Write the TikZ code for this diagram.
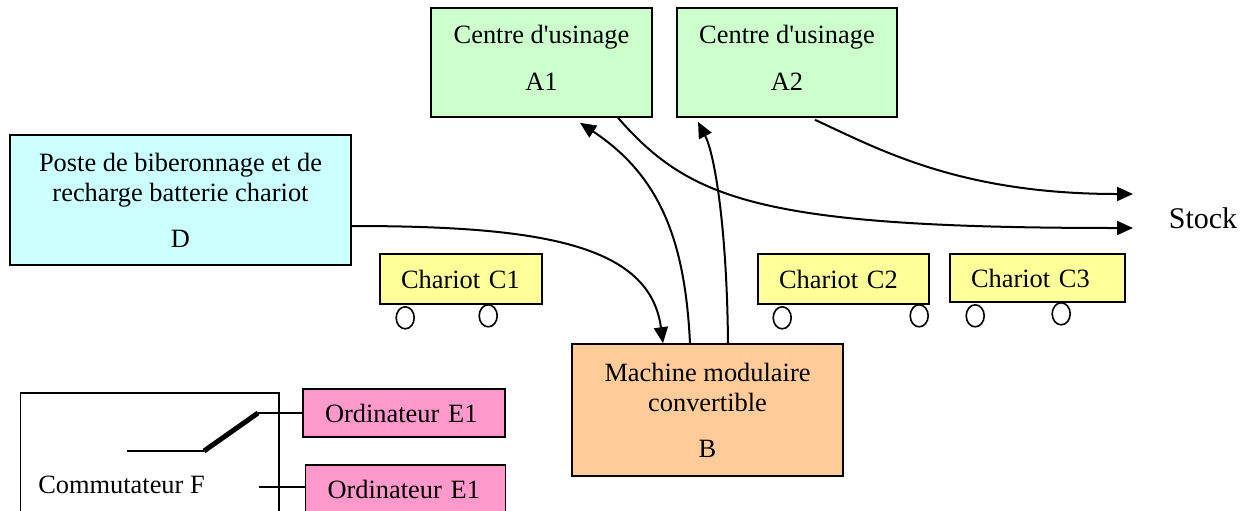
\documentclass[tikz,border=0pt]{standalone}
\usepackage{fontspec}
\setmainfont{Liberation Serif}
\usetikzlibrary{calc,arrows.meta}

\definecolor{usinage}{HTML}{CCFFCC}
\definecolor{poste}{HTML}{CCFFFF}
\definecolor{chariot}{HTML}{FFFF99}
\definecolor{machine}{HTML}{FFCC99}
\definecolor{ordi}{HTML}{FF99CC}

\begin{document}
\begin{tikzpicture}[x=0.5pt,y=-0.5pt,
  every node/.style={font=\fontsize{13.2}{15}\selectfont},
  box/.style={draw,line width=0.8pt,align=center,inner sep=0pt},
  leftbox/.style={draw,line width=0.8pt,align=left,inner ysep=0pt,inner xsep=10.5pt},
  flow/.style={line width=1pt,-{Triangle[length=8pt,width=7pt]}},
  wheel/.style={draw,line width=0.8pt,fill=white}]

\useasboundingbox (0,0) rectangle (1249,510);
\clip (0,0) rectangle (1249,510);

% centres d'usinage
\node[box,fill=usinage,minimum width=110.5pt,minimum height=54.5pt,text depth=5pt] (a1) at (541.5,62.5) {Centre d\textquotesingle usinage\\[8.5pt]A1};
\node[box,fill=usinage,minimum width=110pt,minimum height=54.5pt,text depth=5pt] (a2) at (787,62.5) {Centre d\textquotesingle usinage\\[8.5pt]A2};

% poste D et machine B
\node[box,fill=poste,minimum width=170.5pt,minimum height=65pt] (d) at (180.5,200) {Poste de biberonnage et de\\recharge batterie chariot\\[8pt]D};
\node[box,fill=machine,minimum width=135.5pt,minimum height=66pt] (b) at (707.5,410) {Machine modulaire\\convertible\\[8pt]B};

% chariots
\node[leftbox,fill=chariot,text width=60pt,minimum height=25pt] (c1) at (461,279) {Chariot C1};
\node[leftbox,fill=chariot,text width=64.5pt,minimum height=25pt] (c2) at (843.5,279) {Chariot C2};
\node[leftbox,fill=chariot,text width=66.5pt,minimum height=24pt] (c3) at (1037.5,278) {Chariot C3};
\foreach \c/\a/\b in {c1/26/109,c2/25/162,c3/26/112} {
\draw[wheel] ($(\c.south west)+(\a,13)$) ellipse [x radius=9,y radius=11];
\draw[wheel] ($(\c.south west)+(\b,11)$) ellipse [x radius=9,y radius=11];
}

% commutateur F
\draw[line width=0.8pt] (20.5,393) rectangle (279,540);
\node (f) at (121.5,485) {Commutateur F};
\node[leftbox,fill=ordi,inner xsep=11pt,text width=79pt,minimum height=24pt] (e1a) at (404,413) {Ordinateur E1};
\node[leftbox,fill=ordi,inner xsep=11pt,text width=78pt,minimum height=24pt] (e1b) at (405.5,489) {Ordinateur E1};
\coordinate (s0) at (127,451);
\coordinate (s1) at (204,451);
\coordinate (s2) at (258,413);
\coordinate (s3) at (259,487);
\draw[line width=0.8pt] (s0) -- (s1);
\draw[line width=2.5pt] (s1) -- (s2);
\draw[line width=0.8pt] (s2) -- (e1a.west);
\draw[line width=0.8pt] (s3) -- (s3 -| e1b.west);

% stock
\node[font=\fontsize{15}{18}\selectfont] (stock) at (1203,218) {Stock};
\coordinate (stk1) at (1133,228);
\coordinate (stk2) at (1133,194);

% flux
\draw[flow] ($(d.east)+(0,26)$) .. controls +(189,0) and +(-13,-99) .. ($(b.north)+(-44.5,0)$);
\draw[flow] ($(b.north)+(-17.5,0)$) .. controls +(-5,-103) and +(80,53) .. ($(a1.south)+(38.5,5)$);
\draw[flow] ($(b.north)+(20.5,0)$) .. controls +(-1,-113) and +(17,33) .. ($(a2.south)+(-89,4)$);
\draw[flow] ($(a1.south)+(76.5,0)$) .. controls +(72,82) and +(-373,0) .. (stk1);
\draw[flow] ($(a2.south)+(28,2)$) .. controls +(65,30) and +(-173,0) .. (stk2);

\end{tikzpicture}
\end{document}
